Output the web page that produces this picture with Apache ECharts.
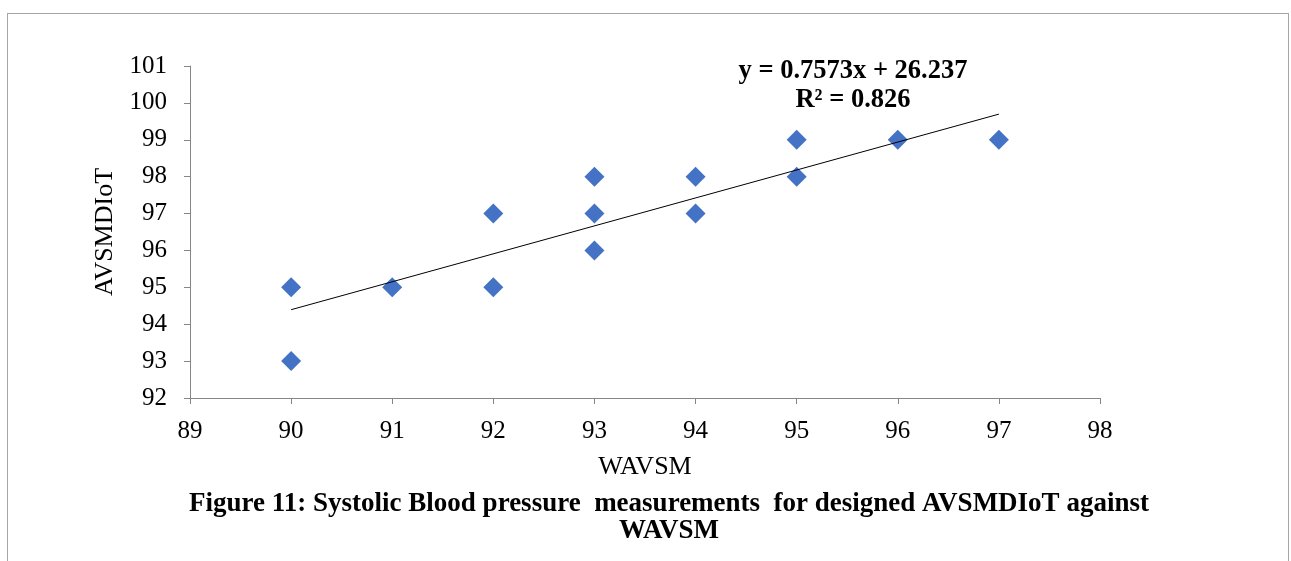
<!DOCTYPE html>
<html>
<head>
<meta charset="utf-8">
<style>
  body { margin: 0; background: #fff; }
  #frame { position: absolute; left: 7px; top: 13px; width: 1280px; height: 560px;
           border: 1px solid #a6a6a6; border-bottom: none; }
  #main { position: absolute; left: 0; top: 0; width: 1291px; height: 561px; }
</style>
</head>
<body>
<div id="frame"></div>
<div id="main"></div>
<script src="https://cdn.jsdelivr.net/npm/echarts@6/dist/echarts.min.js"></script>
<script>
    var wavsm    = [90, 90, 91, 92, 92, 93, 93, 93, 94, 94, 95, 95, 96, 97];
    var avsmdiot = [95, 93, 95, 97, 95, 98, 97, 96, 98, 97, 99, 98, 99, 99];
    var slope = 0.7573, intercept = 26.237;

    var points = wavsm.map(function (x, i) { return [x, avsmdiot[i]]; });
    var trend = [90, 97].map(function (x) { return [x, slope * x + intercept]; });

    var font = 'Liberation Serif';
    var myChart = echarts.init(document.getElementById('main'));

    option = {
        animation: false,
        title: [
            {
                text: 'y = 0.7573x + 26.237\nR² = 0.826',
                left: 848, top: 52, textAlign: 'center',
                textStyle: { fontFamily: font, fontWeight: 'bold', fontSize: 26.5, lineHeight: 29, color: '#000' }
            },
            {
                text: 'Figure 11: Systolic Blood pressure  measurements  for designed AVSMDIoT against\nWAVSM',
                left: 664, top: 486, textAlign: 'center',
                textStyle: { fontFamily: font, fontWeight: 'bold', fontSize: 27, lineHeight: 27, color: '#000' }
            }
        ],
        grid: { left: 190, right: 191, top: 66, bottom: 163 },
        xAxis: {
            type: 'value', min: 89, max: 98, interval: 1,
            name: 'WAVSM', nameLocation: 'middle', nameGap: 56,
            nameTextStyle: { fontFamily: font, fontSize: 26, color: '#000' },
            axisLine: { lineStyle: { color: '#868686' } },
            axisTick: { length: 6, lineStyle: { color: '#868686' } },
            axisLabel: { fontFamily: font, fontSize: 25, color: '#000', margin: 21 },
            splitLine: { show: false }
        },
        yAxis: {
            type: 'value', min: 92, max: 101, interval: 1,
            name: 'AVSMDIoT', nameLocation: 'middle', nameGap: 70,
            nameTextStyle: { fontFamily: font, fontSize: 26, color: '#000' },
            axisLine: { show: true, lineStyle: { color: '#868686' } },
            axisTick: { show: true, length: 6, lineStyle: { color: '#868686' } },
            axisLabel: { fontFamily: font, fontSize: 25, color: '#000', margin: 23 },
            splitLine: { show: false }
        },
        series: [
            {
                type: 'line',
                data: trend,
                symbol: 'none',
                lineStyle: { color: '#000', width: 1 },
                z: 3
            },
            {
                type: 'scatter',
                data: points,
                symbol: 'diamond',
                symbolSize: 20,
                itemStyle: { color: '#4472C4', opacity: 1 },
                z: 2
            }
        ]
    };

    myChart.setOption(option);
</script>
</body>
</html>
